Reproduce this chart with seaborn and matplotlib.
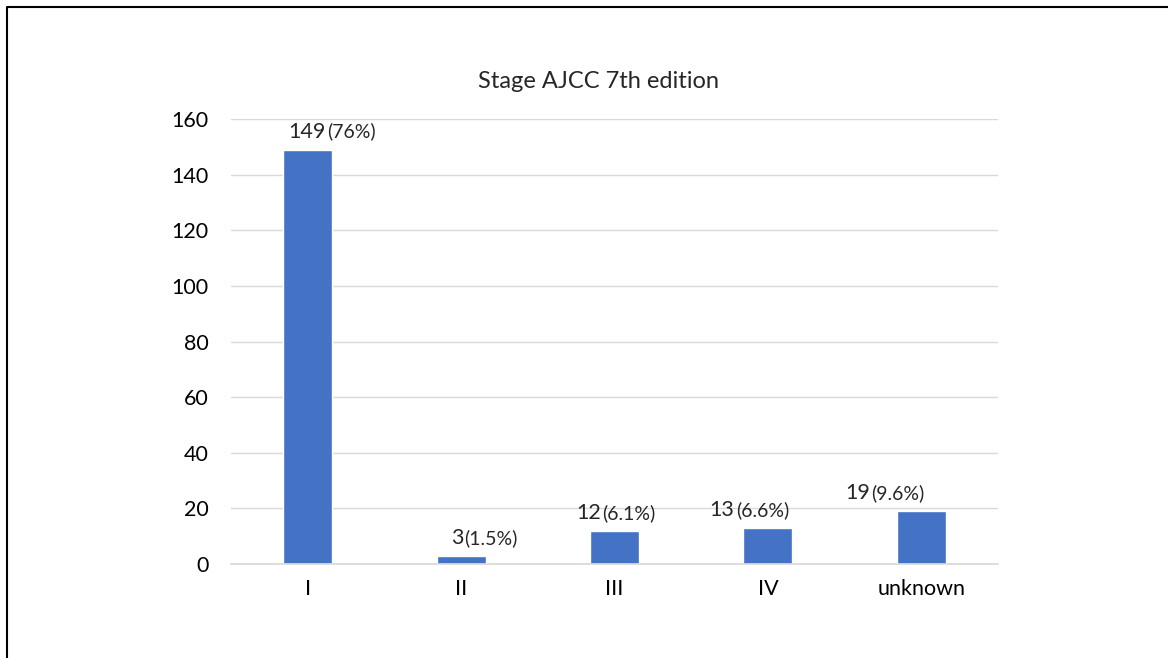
import matplotlib
matplotlib.use('Agg')
import matplotlib.pyplot as plt
from matplotlib.lines import Line2D
import seaborn as sns
import pandas as pd

# data
stages = ['I', 'II', 'III', 'IV', 'unknown']
counts = [149, 3, 12, 13, 19]
percents = ['(76%)', '(1.5%)', '(6.1%)', '(6.6%)', '(9.6%)']

# label nudges (points), the original labels were hand-placed
label_dx = [13, 1.5, -10, -24, -37]

sns.set_theme(style='white')
plt.rcParams['font.family'] = ['Lato', 'DejaVu Sans']

df = pd.DataFrame({'stage': stages, 'count': counts})

W, H = 1168, 658
fig = plt.figure(figsize=(W / 100, H / 100), dpi=100)
fig.patch.set_facecolor('white')
ax = fig.add_axes([231 / W, 1 - 564 / H, (998 - 231) / W, (564 - 119) / H])

sns.barplot(data=df, x='stage', y='count', color='#4472C4', saturation=1,
            width=0.32, ax=ax)

ax.set_ylim(0, 160)
ax.set_yticks(range(0, 161, 20))
ax.yaxis.grid(True, color='#d9d9d9', lw=1)
ax.set_axisbelow(True)
for s in ['top', 'right', 'left']:
    ax.spines[s].set_visible(False)
ax.spines['bottom'].set_color('#d9d9d9')
ax.tick_params(length=0, labelsize=15.5, colors='black')
ax.tick_params(axis='y', pad=16)
ax.tick_params(axis='x', pad=11)
ax.set_xlabel('')
ax.set_ylabel('')

for i, (c, p) in enumerate(zip(counts, percents)):
    ax.annotate(str(c), xy=(i, c), xytext=(label_dx[i], 8.6),
                textcoords='offset points', ha='right', va='baseline',
                fontsize=15.5)
    ax.annotate(p, xy=(i, c), xytext=(label_dx[i] + 1, 8.6),
                textcoords='offset points', ha='left', va='baseline',
                fontsize=14)

fig.text(599 / W, 1 - 82 / H, 'Stage AJCC 7th edition', ha='center',
         va='center', fontsize=17)

# chart frame (only left and top edges fall inside the image)
fig.add_artist(Line2D([7 / W, 7 / W, 1], [0, 1 - 7 / H, 1 - 7 / H],
                      transform=fig.transFigure, color='black', lw=1.5))

fig.savefig('out.png', dpi=100)
